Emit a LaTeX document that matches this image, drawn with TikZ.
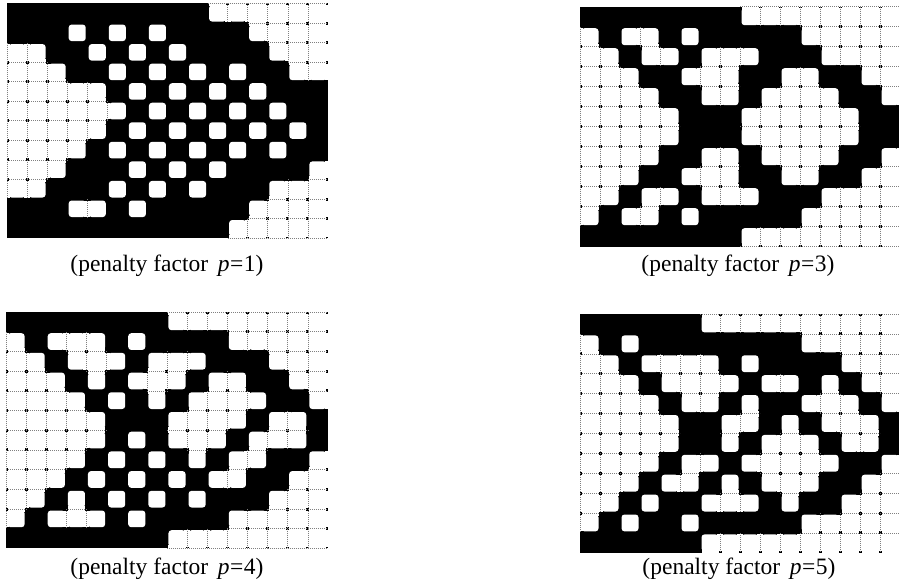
\documentclass[tikz,border=0pt]{standalone}
\usepackage{fontspec}
\setmainfont{Liberation Serif}
\newcount\grow
\newcount\gcol
\def\setrow#1#2{\global\grow=#1\relax\global\gcol=0\relax\parsecells#2\relax}
\def\parsecells#1{\ifx#1\relax\else
  \expandafter\xdef\csname g@\the\grow @\the\gcol\endcsname{#1}%
  \global\advance\gcol by 1\relax
  \expandafter\parsecells\fi}
\def\cellval#1#2{\ifcsname g@#1@#2\endcsname\csname g@#1@#2\endcsname\else 0\fi}
\def\ins{1.5}
\tikzset{
  gl/.style={black!50, line width=0.6pt, dash pattern=on 0.7pt off 1.3pt},
  lab/.style={anchor=base, inner sep=0pt, font=\fontsize{23.5}{27}\selectfont}
}
\newcommand\plabel[1]{(penalty factor\ \,\textit{p}\kern0.5pt=\kern0.5pt#1)}
\newcommand\drawgrid[4]{%
  \def\gx{#1}\def\gy{#2}\def\cw{#3}\def\ch{#4}%
  \begin{scope}
  \clip (\gx,\gy) rectangle ++(16*\cw,12*\ch);
  \fill[black] (\gx,\gy) rectangle ++(16*\cw,12*\ch);
  \foreach \gi in {0,...,11}{\foreach \gj in {0,...,15}{%
    \ifnum\cellval{\gi}{\gj}=0
      \pgfmathsetmacro\xa{\gx+\gj*\cw}%
      \pgfmathsetmacro\ya{\gy+\gi*\ch}%
      \pgfmathsetmacro\xb{\xa+\cw}%
      \pgfmathsetmacro\yb{\ya+\ch}%
      \fill[white,rounded corners=3pt] (\xa+\ins,\ya+\ins) rectangle (\xb-\ins,\yb-\ins);
      \ifnum\cellval{\gi}{\the\numexpr\gj+1\relax}=0
        \fill[white] (\xb-2*\ins,\ya+\ins) rectangle (\xb+2*\ins,\yb-\ins);
      \fi
      \ifnum\cellval{\gi}{\the\numexpr\gj-1\relax}=0
        \fill[white] (\xa-2*\ins,\ya+\ins) rectangle (\xa+2*\ins,\yb-\ins);
      \fi
      \ifnum\cellval{\the\numexpr\gi+1\relax}{\gj}=0
        \fill[white] (\xa+\ins,\yb-2*\ins) rectangle (\xb-\ins,\yb+2*\ins);
      \fi
      \ifnum\cellval{\the\numexpr\gi-1\relax}{\gj}=0
        \fill[white] (\xa+\ins,\ya-2*\ins) rectangle (\xb-\ins,\ya+2*\ins);
      \fi
    \fi}}
  \foreach \gi in {0,...,11}{\foreach \gj in {0,...,15}{%
    \ifnum\cellval{\gi}{\gj}=0
      \pgfmathsetmacro\xa{\gx+\gj*\cw}%
      \pgfmathsetmacro\ya{\gy+\gi*\ch}%
      \pgfmathsetmacro\xb{\xa+\cw}%
      \pgfmathsetmacro\yb{\ya+\ch}%
      \ifnum\cellval{\gi}{\the\numexpr\gj+1\relax}=0
        \draw[gl] (\xb,\ya) -- (\xb,\yb);
      \fi
      \ifnum\cellval{\the\numexpr\gi+1\relax}{\gj}=0
        \draw[gl] (\xa,\yb) -- (\xb,\yb);
      \fi
      \ifnum\gj=0 \draw[gl] (\xa,\ya) -- (\xa,\yb);\fi
      \ifnum\gi=0 \draw[gl] (\xa,\ya) -- (\xb,\ya);\fi
    \fi}}
  \end{scope}}
\begin{document}
\begin{tikzpicture}[x=1pt,y=-1pt]
\fill[white] (0,0) rectangle (899,583);
\useasboundingbox (0,0) rectangle (899,583);
% ---- grid p=1 (top left)
\setrow{0}{1111111111000000}
\setrow{1}{1110101011110000}
\setrow{2}{0011010101111000}
\setrow{3}{0001101010101100}
\setrow{4}{0000010101010111}
\setrow{5}{0000001010101011}
\setrow{6}{0000010101010101}
\setrow{7}{0000101010101011}
\setrow{8}{0001110101011110}
\setrow{9}{0011101010111000}
\setrow{10}{1110010111110000}
\setrow{11}{1111111111100000}
\drawgrid{7}{3.5}{20.06}{19.55}
% ---- grid p=3 (top right)
\setrow{0}{1111111100000000}
\setrow{1}{0100101111100000}
\setrow{2}{0010010001110000}
\setrow{3}{0001100011001100}
\setrow{4}{0000110010000110}
\setrow{5}{0000011100000011}
\setrow{6}{0000011100000011}
\setrow{7}{0000110010000110}
\setrow{8}{0001100011001100}
\setrow{9}{0010010001110000}
\setrow{10}{0100101111100000}
\setrow{11}{1111111100000000}
\drawgrid{580}{6.7}{20}{20}
% ---- grid p=4 (bottom left)
\setrow{0}{1111111100000000}
\setrow{1}{0100010111100000}
\setrow{2}{0010001000111000}
\setrow{3}{0001010001001100}
\setrow{4}{0000101010000110}
\setrow{5}{0000011100001001}
\setrow{6}{0000010100010001}
\setrow{7}{0000101010100110}
\setrow{8}{0001010101001100}
\setrow{9}{0010101010111000}
\setrow{10}{0100010111100000}
\setrow{11}{1111111100000000}
\drawgrid{6}{312}{20.12}{19.7}
% ---- grid p=5 (bottom right)
\setrow{0}{1111110000000000}
\setrow{1}{0101111111100000}
\setrow{2}{0010000101111000}
\setrow{3}{0001000010010100}
\setrow{4}{0000100101100010}
\setrow{5}{0000011001010001}
\setrow{6}{0000011010001001}
\setrow{7}{0000100100000110}
\setrow{8}{0001001010001100}
\setrow{9}{0010110001011000}
\setrow{10}{0101101111100000}
\setrow{11}{1111110000000000}
\drawgrid{580}{314}{20}{19.9}
% ---- labels
\node[lab] (l1) at (167,271) {\plabel{1}};
\node[lab] (l3) at (738,271) {\plabel{3}};
\node[lab] (l4) at (167,574) {\plabel{4}};
\node[lab] (l5) at (739,574) {\plabel{5}};
\end{tikzpicture}
\end{document}
